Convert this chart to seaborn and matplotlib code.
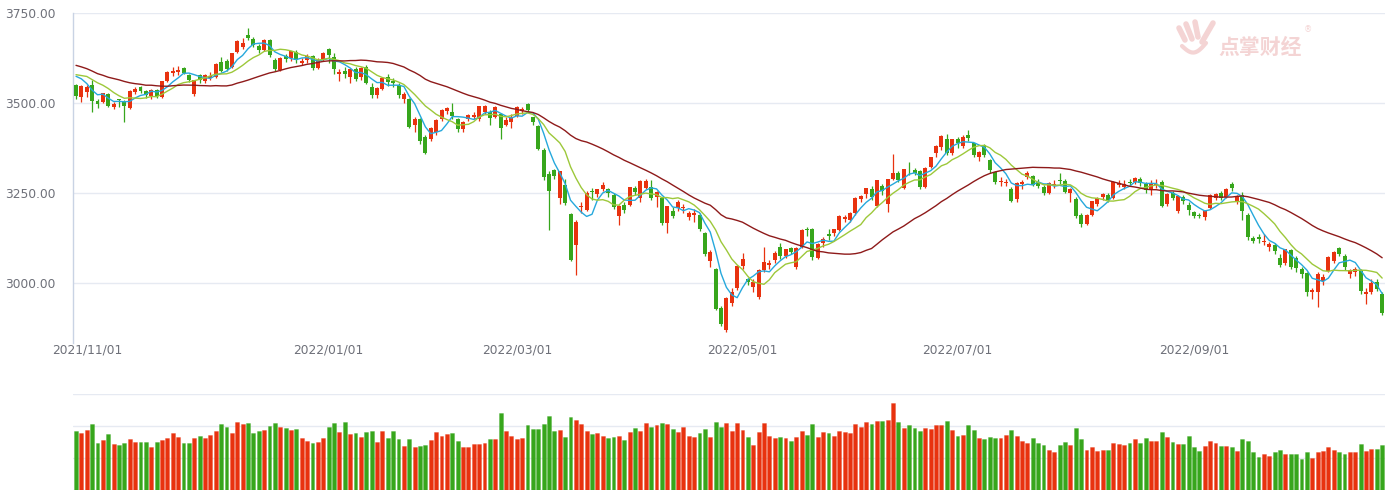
import matplotlib
matplotlib.use("Agg")
import matplotlib.pyplot as plt
import numpy as np
import pandas as pd
import seaborn as sns
from matplotlib.lines import Line2D
from matplotlib.colors import to_rgba

# ---------------- data ----------------
# closes before the first displayed day (warm-up for moving averages)
pre_close = [3567.1, 3597.0, 3581.7, 3621.9, 3676.6, 3675.2, 3693.1, 3703.1, 3715.4, 3662.6,
             3656.2, 3607.1, 3614.0, 3628.5, 3642.2, 3613.1, 3582.8, 3602.2, 3536.3, 3568.2,
             3592.2, 3591.7, 3546.9, 3561.8, 3558.3, 3572.4, 3568.1, 3593.2, 3587.0, 3594.8,
             3582.6, 3609.9, 3597.6, 3562.3]

month_labels = ["2021/10", "2021/11", "2021/12", "2022/01", "2022/02", "2022/03", "2022/04",
                "2022/05", "2022/06", "2022/07", "2022/08", "2022/09", "2022/10"]
month_days = [2, 22, 23, 19, 16, 23, 19, 19, 21, 21, 23, 21, 15]
shown_months = ["2021/11", "2022/01", "2022/03", "2022/05", "2022/07", "2022/09"]

open_ = [3550, 3516, 3531, 3550, 3505, 3503, 3525, 3490, 3510, 3502,
         3485, 3531, 3545, 3532, 3520, 3536, 3516, 3562, 3582, 3585,
         3596, 3578, 3525, 3578, 3562, 3570, 3573, 3615, 3618, 3600,
         3641, 3655, 3690, 3677, 3658, 3648, 3675, 3620, 3593, 3630,
         3624, 3643, 3612, 3620, 3630, 3598, 3622, 3649, 3628, 3580,
         3590, 3572, 3595, 3572, 3601, 3544, 3522, 3540, 3572, 3560,
         3550, 3510, 3510, 3440, 3455, 3405, 3400, 3420, 3455, 3478,
         3475, 3455, 3428, 3456, 3460, 3455, 3475, 3475, 3460, 3470,
         3440, 3448, 3465, 3478, 3496, 3460, 3437, 3370, 3302, 3314,
         3235, 3273, 3193, 3105, 3212, 3203, 3255, 3248, 3262, 3260,
         3245, 3185, 3218, 3218, 3263, 3235, 3265, 3268, 3240, 3237,
         3167, 3199, 3207, 3208, 3184, 3190, 3190, 3140, 3060, 3040,
         2930, 2870, 2945, 2985, 3046, 3010, 2990, 2962, 3036, 3050,
         3064, 3100, 3075, 3096, 3045, 3101, 3150, 3149, 3070, 3112,
         3135, 3138, 3147, 3178, 3176, 3195, 3232, 3247, 3260, 3215,
         3270, 3220, 3290, 3305, 3265, 3318, 3315, 3310, 3268, 3322,
         3360, 3378, 3400, 3362, 3400, 3380, 3410, 3388, 3350, 3383,
         3342, 3309, 3280, 3278, 3262, 3232, 3276, 3294, 3298, 3280,
         3268, 3250, 3272, 3285, 3283, 3250, 3232, 3190, 3165, 3190,
         3220, 3238, 3245, 3235, 3272, 3268, 3280, 3280, 3290, 3275,
         3257, 3272, 3280, 3220, 3250, 3200, 3240, 3217, 3196, 3190,
         3182, 3207, 3235, 3250, 3240, 3275, 3224, 3245, 3190, 3125,
         3128, 3115, 3100, 3105, 3070, 3055, 3092, 3070, 3040, 3027,
         2975, 2976, 3005, 3033, 3060, 3098, 3075, 3025, 3030, 3036,
         2970, 2976, 3003, 2970]

high = [3553, 3549, 3551, 3565, 3512, 3528, 3528, 3504, 3512, 3508,
        3535, 3545, 3548, 3537, 3540, 3540, 3562, 3590, 3600, 3603,
        3600, 3580, 3565, 3581, 3580, 3585, 3610, 3628, 3622, 3640,
        3676, 3680, 3709, 3682, 3665, 3678, 3678, 3625, 3628, 3636,
        3645, 3647, 3625, 3635, 3632, 3625, 3642, 3652, 3640, 3595,
        3600, 3595, 3600, 3600, 3605, 3555, 3545, 3572, 3580, 3570,
        3555, 3530, 3515, 3462, 3458, 3410, 3432, 3455, 3482, 3490,
        3500, 3458, 3450, 3470, 3475, 3492, 3495, 3480, 3492, 3472,
        3460, 3470, 3492, 3490, 3500, 3462, 3440, 3375, 3310, 3318,
        3312, 3290, 3195, 3175, 3225, 3256, 3265, 3262, 3280, 3265,
        3250, 3218, 3225, 3268, 3270, 3285, 3290, 3285, 3256, 3240,
        3215, 3210, 3230, 3220, 3200, 3205, 3195, 3142, 3092, 3042,
        2935, 2960, 2985, 3050, 3084, 3015, 3010, 3038, 3101, 3065,
        3088, 3110, 3095, 3100, 3100, 3150, 3155, 3152, 3112, 3128,
        3150, 3150, 3188, 3190, 3196, 3238, 3245, 3265, 3270, 3286,
        3275, 3290, 3358, 3310, 3318, 3335, 3320, 3315, 3322, 3350,
        3382, 3410, 3414, 3400, 3405, 3410, 3424, 3390, 3368, 3385,
        3345, 3312, 3295, 3290, 3268, 3280, 3285, 3310, 3300, 3290,
        3272, 3280, 3285, 3305, 3290, 3265, 3240, 3195, 3192, 3228,
        3240, 3250, 3250, 3283, 3285, 3285, 3290, 3295, 3295, 3280,
        3285, 3290, 3285, 3250, 3255, 3245, 3245, 3225, 3200, 3195,
        3202, 3246, 3250, 3255, 3265, 3280, 3245, 3252, 3195, 3130,
        3135, 3135, 3115, 3110, 3080, 3095, 3095, 3075, 3045, 3030,
        2985, 3030, 3025, 3075, 3090, 3100, 3080, 3040, 3045, 3040,
        2985, 3010, 3010, 2975]

low = [3510, 3503, 3517, 3476, 3485, 3500, 3488, 3482, 3490, 3448,
       3482, 3526, 3527, 3515, 3512, 3515, 3513, 3558, 3575, 3578,
       3580, 3558, 3520, 3555, 3555, 3565, 3570, 3585, 3590, 3598,
       3638, 3650, 3675, 3655, 3640, 3645, 3628, 3588, 3590, 3615,
       3618, 3610, 3605, 3612, 3592, 3595, 3618, 3610, 3580, 3560,
       3570, 3555, 3560, 3565, 3552, 3515, 3515, 3535, 3548, 3545,
       3515, 3500, 3430, 3420, 3385, 3357, 3395, 3410, 3450, 3470,
       3455, 3420, 3420, 3450, 3455, 3450, 3470, 3440, 3458, 3400,
       3435, 3430, 3460, 3470, 3475, 3440, 3370, 3285, 3147, 3290,
       3220, 3218, 3060, 3023, 3195, 3200, 3230, 3240, 3255, 3240,
       3205, 3161, 3195, 3215, 3245, 3225, 3260, 3230, 3210, 3160,
       3140, 3180, 3200, 3195, 3175, 3170, 3145, 3075, 3045, 2925,
       2880, 2864, 2935, 2980, 3040, 2995, 2975, 2955, 3030, 3040,
       3055, 3068, 3070, 3080, 3040, 3098, 3130, 3065, 3068, 3100,
       3120, 3130, 3145, 3170, 3170, 3190, 3225, 3235, 3230, 3210,
       3245, 3198, 3285, 3280, 3260, 3300, 3300, 3262, 3265, 3320,
       3350, 3370, 3355, 3355, 3375, 3375, 3395, 3350, 3340, 3350,
       3305, 3275, 3270, 3270, 3225, 3225, 3262, 3290, 3270, 3265,
       3245, 3248, 3265, 3275, 3250, 3225, 3180, 3155, 3160, 3185,
       3215, 3230, 3225, 3232, 3268, 3262, 3270, 3275, 3270, 3250,
       3245, 3265, 3210, 3215, 3230, 3195, 3220, 3190, 3180, 3180,
       3175, 3205, 3230, 3230, 3235, 3255, 3220, 3175, 3120, 3110,
       3112, 3105, 3090, 3080, 3045, 3050, 3040, 3030, 3015, 2965,
       2955, 2934, 2995, 3030, 3055, 3075, 3035, 3015, 3020, 2970,
       2943, 2970, 2978, 2912]

close = [3518.4, 3547.3, 3544.5, 3505.6, 3498.5, 3526.9, 3491.6, 3498.6, 3507.0, 3492.5,
         3532.8, 3539.1, 3533.3, 3521.8, 3537.4, 3520.7, 3560.4, 3585.0, 3589.8, 3592.7,
         3584.2, 3564.1, 3562.7, 3563.9, 3576.9, 3573.8, 3607.4, 3589.3, 3595.1, 3637.6,
         3673.0, 3666.4, 3681.1, 3661.5, 3647.6, 3675.0, 3632.4, 3593.6, 3625.1, 3622.6,
         3643.3, 3618.1, 3616.0, 3630.1, 3597.0, 3619.2, 3639.8, 3632.3, 3595.2, 3586.1,
         3579.5, 3593.5, 3567.4, 3597.4, 3555.3, 3521.3, 3541.7, 3569.9, 3558.2, 3555.1,
         3522.6, 3524.1, 3433.1, 3455.7, 3394.3, 3361.4, 3429.6, 3452.6, 3480.0, 3485.9,
         3463.0, 3428.9, 3446.1, 3465.8, 3468.0, 3490.8, 3490.6, 3457.2, 3489.2, 3430.0,
         3451.4, 3462.3, 3488.8, 3484.2, 3481.1, 3447.7, 3372.9, 3293.5, 3256.4, 3296.1,
         3309.8, 3223.5, 3064.0, 3170.7, 3215.0, 3251.1, 3253.7, 3259.9, 3271.0, 3250.3,
         3212.2, 3214.5, 3203.9, 3266.6, 3252.2, 3282.7, 3283.4, 3236.7, 3251.9, 3167.1,
         3213.3, 3186.8, 3225.6, 3211.2, 3195.5, 3194.0, 3151.1, 3079.8, 3086.9, 2928.5,
         2886.4, 2958.3, 2975.5, 3047.1, 3067.8, 3001.6, 3004.1, 3035.8, 3058.7, 3055.0,
         3084.3, 3073.8, 3093.7, 3086.0, 3097.0, 3146.6, 3146.9, 3070.9, 3107.5, 3123.1,
         3130.2, 3149.1, 3186.4, 3182.2, 3195.5, 3236.4, 3241.8, 3263.8, 3239.0, 3284.8,
         3255.5, 3288.9, 3305.4, 3285.4, 3316.8, 3315.4, 3306.7, 3267.2, 3320.2, 3349.8,
         3379.2, 3409.2, 3361.5, 3398.6, 3387.6, 3405.4, 3404.0, 3355.4, 3364.4, 3356.1,
         3313.6, 3281.5, 3284.3, 3281.7, 3228.1, 3278.1, 3279.4, 3304.7, 3272.0, 3270.0,
         3250.4, 3277.4, 3275.8, 3282.6, 3253.2, 3260.0, 3186.3, 3163.7, 3189.0, 3227.0,
         3236.9, 3247.4, 3230.0, 3281.7, 3276.9, 3276.1, 3277.9, 3292.5, 3277.5, 3258.1,
         3277.8, 3276.2, 3215.2, 3246.3, 3236.2, 3240.7, 3227.2, 3202.1, 3185.0, 3186.5,
         3199.9, 3243.5, 3246.3, 3235.6, 3262.1, 3263.8, 3237.5, 3199.9, 3126.4, 3115.6,
         3122.4, 3117.2, 3108.9, 3088.4, 3051.2, 3093.9, 3045.1, 3041.2, 3024.4, 2974.2,
         2979.8, 3025.5, 3016.4, 3072.0, 3084.9, 3081.0, 3044.4, 3035.1, 3038.9, 2977.6,
         2976.3, 2999.5, 2982.9, 2915.9]

volume = [354, 340, 360, 396, 284, 300, 334, 276, 270, 284,
          304, 290, 290, 290, 256, 290, 300, 310, 340, 320,
          284, 284, 310, 324, 310, 330, 354, 396, 380, 340,
          408, 396, 400, 340, 354, 360, 386, 400, 380, 370,
          360, 366, 310, 296, 284, 290, 310, 380, 400, 346,
          408, 334, 340, 320, 346, 354, 290, 354, 310, 354,
          304, 264, 304, 256, 264, 270, 300, 346, 324, 334,
          340, 296, 256, 256, 276, 276, 284, 304, 304, 464,
          354, 324, 304, 310, 388, 366, 366, 396, 444, 354,
          360, 318, 436, 420, 396, 354, 334, 340, 324, 310,
          318, 324, 300, 346, 374, 354, 402, 380, 388, 402,
          396, 366, 346, 380, 324, 318, 340, 366, 318, 408,
          380, 402, 354, 400, 360, 318, 270, 346, 400, 324,
          310, 318, 310, 296, 318, 354, 332, 396, 318, 346,
          340, 324, 354, 346, 340, 396, 380, 408, 396, 416,
          414, 420, 520, 408, 374, 388, 374, 354, 374, 366,
          388, 388, 416, 360, 324, 332, 388, 360, 310, 304,
          318, 310, 310, 332, 360, 324, 296, 284, 310, 284,
          270, 242, 228, 270, 290, 270, 374, 304, 242, 256,
          234, 242, 242, 284, 276, 270, 284, 304, 284, 310,
          296, 296, 346, 318, 290, 276, 276, 324, 256, 234,
          262, 296, 284, 262, 262, 256, 234, 304, 296, 228,
          200, 214, 206, 228, 242, 214, 214, 214, 186, 228,
          192, 228, 234, 256, 242, 228, 214, 228, 228, 276,
          234, 248, 248, 270]

# ---------------- derived ----------------
o = np.array(open_, float)
h = np.array(high, float)
l = np.array(low, float)
c = np.array(close, float)
v = np.array(volume, float)
n = len(c)
idx = np.arange(n)

all_close = pd.Series(pre_close + close, dtype=float)
npre = len(pre_close)
ma5 = all_close.rolling(5).mean().to_numpy()[npre:]
ma10 = all_close.rolling(10).mean().to_numpy()[npre:]
ma30 = all_close.rolling(30).mean().to_numpy()[npre:]

starts = np.concatenate([[0], np.cumsum(month_days)[:-1]])
month_start = dict(zip(month_labels, starts))
tick_pos = [month_start[m] for m in shown_months]
tick_txt = [m + "/01" for m in shown_months]

RED = "#e8320f"
GREEN = "#37a61c"
up = c >= o
cols = np.where(up, RED, GREEN)

# ---------------- figure ----------------
sns.set_theme(style="white")
plt.rcParams["font.family"] = ["DejaVu Sans"]

W, H = 1390, 492
fig = plt.figure(figsize=(W / 100, H / 100), dpi=100)
fig.patch.set_facecolor("white")

ax = fig.add_axes([73 / W, 1 - 343 / H, (1385 - 73) / W, 330 / H])
axv = fig.add_axes([73 / W, 1 - 490 / H, (1385 - 73) / W, 96 / H])

GRID = "#e6eaf2"
LABEL = "#6e7079"

# candles
wick_lo = np.minimum(l, np.minimum(o, c))
wick_hi = np.maximum(h, np.maximum(o, c))
ax.vlines(idx, wick_lo, wick_hi, colors=cols, linewidth=0.9, zorder=2)
body_b = np.minimum(o, c)
body_h = np.maximum(np.abs(c - o), 1.2)
ax.bar(idx, body_h, bottom=body_b, width=0.74, color=cols, linewidth=0, zorder=3)

# moving averages
sns.lineplot(x=idx, y=ma5, ax=ax, color="#26a8dc", linewidth=1.0, zorder=4)
sns.lineplot(x=idx, y=ma10, ax=ax, color="#9dc83a", linewidth=1.0, zorder=4)
sns.lineplot(x=idx, y=ma30, ax=ax, color="#8e1a1a", linewidth=1.0, zorder=4)

ax.set_xlim(-0.56, n - 1 + 0.53)
ax.set_ylim(2833.3, 3750)
yt = [3000, 3250, 3500, 3750]
ax.set_yticks(yt)
ax.set_yticklabels([f"{t:.2f}" for t in yt])
ax.set_xticks(tick_pos)
ax.set_xticklabels(tick_txt)
ax.tick_params(axis="y", length=0, pad=12.5, labelsize=8.8, labelcolor=LABEL)
ax.tick_params(axis="x", length=0, pad=0.5, labelsize=8.8, labelcolor=LABEL)
ax.yaxis.grid(True, color=GRID, linewidth=1.0, zorder=0)
ax.xaxis.grid(False)
for s in ["top", "right", "bottom"]:
    ax.spines[s].set_visible(False)
ax.spines["left"].set_color("#c9d3e4")
ax.spines["left"].set_linewidth(1.0)
ax.set_axisbelow(True)
ax.set_xlabel("")
ax.set_ylabel("")

# volume
dfv = pd.DataFrame({"i": idx, "vol": v})
sns.barplot(data=dfv, x="i", y="vol", color=RED, width=0.72, errorbar=None,
            saturation=1, linewidth=0, ax=axv, zorder=3)
for patch, col in zip(axv.patches, cols):
    patch.set_facecolor(col)
    r, g, b, _ = to_rgba(col)
    patch.set_edgecolor((r, g, b, 0.35))
    patch.set_linewidth(0.6)
axv.set_xlim(-0.56, n - 1 + 0.53)
axv.set_ylim(0, 576)
axv.set_yticks([0, 192, 384, 576])
axv.set_yticklabels([])
axv.set_xticks([])
axv.tick_params(length=0)
axv.yaxis.grid(True, color=GRID, linewidth=1.0, zorder=0)
axv.set_axisbelow(True)
for s in ["top", "right", "left", "bottom"]:
    axv.spines[s].set_visible(False)
axv.set_xlabel("")
axv.set_ylabel("")

# watermark logo
PINK = "#f4d4d4"
fig.text(1218 / W, 1 - 47 / H, "点掌财经", fontsize=15, fontweight="bold", color=PINK,
         family=["Noto Sans CJK SC", "DejaVu Sans"], ha="left", va="center")
fig.text(1304 / W, 1 - 30 / H, "®", fontsize=6, color=PINK, ha="left", va="center")
strokes = [((1179, 28), (1185, 40)), ((1186, 24), (1192, 39)), ((1195, 22), (1198, 37)),
           ((1213, 23), (1202, 42))]
for (x0, y0), (x1, y1) in strokes:
    fig.add_artist(Line2D([x0 / W, x1 / W], [1 - y0 / H, 1 - y1 / H], transform=fig.transFigure,
                          color=PINK, linewidth=4.0, solid_capstyle="round"))
tt = np.linspace(0, 1, 20)
fig.add_artist(Line2D((1182 + 24 * tt) / W, 1 - (46 + 8 * np.sin(np.pi * tt) - 3 * tt) / H,
                      transform=fig.transFigure, color=PINK, linewidth=3.0, solid_capstyle="round"))

fig.savefig("out.png", dpi=100, facecolor="white")
